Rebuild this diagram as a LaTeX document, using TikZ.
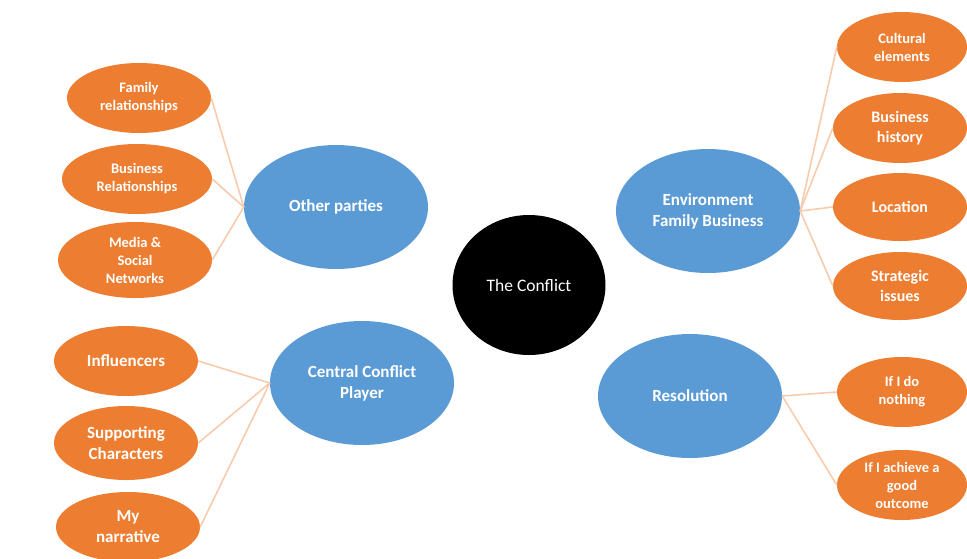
\documentclass[tikz,border=0pt]{standalone}
\usepackage{fontspec}
\setmainfont{Carlito}
\usepackage{xcolor}
\usepackage{tikz}
\usetikzlibrary{shapes.geometric}

\definecolor{topicblue}{HTML}{5B9BD5}
\definecolor{leaforange}{HTML}{ED7D31}
\definecolor{linkpeach}{HTML}{F8CBAD}

\begin{document}
\begin{tikzpicture}[x=1pt, y=-1pt,
        topic/.style={ellipse, fill=topicblue, text=white, align=center, inner sep=0pt,
            minimum width=184pt, minimum height=124pt, font=\bfseries\fontsize{17}{21}\selectfont},
        leaf/.style={ellipse, fill=leaforange, text=white, align=center, inner sep=0pt,
            minimum width=144pt, minimum height=70pt, font=\bfseries\fontsize{17}{21}\selectfont},
        small/.style={font=\bfseries\fontsize{14.5}{18}\selectfont},
        middle/.style={font=\bfseries\fontsize{16}{20}\selectfont},
        link/.style={draw=linkpeach, line width=1.6pt}]
        \useasboundingbox (0, 0) rectangle (967, 558);

        \node[ellipse, fill=black, text=white, inner sep=0pt, minimum width=153pt, minimum height=140pt,
            font=\fontsize{17.5}{21}\selectfont] at (529, 285) (conflict) {The Conflict};

        \node[topic] at (336, 207) (parties) {Other parties};
        \node[topic] at (362, 383) (player) {Central Conflict\\Player};
        \node[topic] at (708, 211) (env) {Environment\\Family Business};
        \node[topic] at (690, 396) (resol) {Resolution};

        \node[leaf, small] at (139, 98) (family) {Family\\relationships};
        \node[leaf, small, minimum width=150pt] at (137, 179) (busrel) {Business\\Relationships};
        \node[leaf, small, minimum width=154pt, minimum height=76pt] at (135, 260) (media) {Media \&\\Social\\Networks};

        \node[leaf] at (126, 361) (infl) {Influencers};
        \node[leaf, minimum height=74pt] at (126, 443) (support) {Supporting\\Characters};
        \node[leaf] at (128, 527) (narr) {My\\narrative};

        \node[leaf, small, minimum width=130pt] at (902, 47) (culture) {Cultural\\elements};
        \node[leaf, middle, minimum width=134pt] at (900, 128) (history) {Business\\history};
        \node[leaf, middle, minimum width=134pt, minimum height=68pt] at (900, 207) (location) {Location};
        \node[leaf, middle, minimum width=134pt, minimum height=68pt] at (900, 286) (strategic) {Strategic\\issues};

        \node[leaf, small, minimum width=130pt] at (902, 392) (nothing) {If I do\\nothing};
        \node[leaf, small, minimum width=130pt] at (902, 485) (achieve) {If I achieve a\\good\\outcome};

        \draw[link] (parties.west) -- (family.east);
        \draw[link] (parties.west) -- (busrel.east);
        \draw[link] (parties.west) -- (media.east);
        \draw[link] (player.west) -- (infl.east);
        \draw[link] (player.west) -- (support.east);
        \draw[link] (player.west) -- (narr.east);
        \draw[link] (env.east) -- (culture.west);
        \draw[link] (env.east) -- (history.west);
        \draw[link] (env.east) -- (location.west);
        \draw[link] (env.east) -- (strategic.west);
        \draw[link] (resol.east) -- (nothing.west);
        \draw[link] (resol.east) -- (achieve.west);
    \end{tikzpicture}
\end{document}
